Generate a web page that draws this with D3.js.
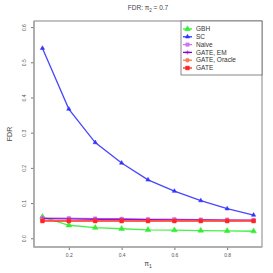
<!DOCTYPE html>
<html>
<head>
<meta charset="utf-8">
<script src="https://cdn.jsdelivr.net/npm/d3@7"></script>
<style>
  body { margin: 0; background: #fff; }
  text { font-family: "Liberation Sans", Arial, sans-serif; }
</style>
</head>
<body>
<div id="chart"></div>
<script>
var svgWidth = 273;
var svgHeight = 273;

var margin = { top: 21, right: 11, bottom: 26, left: 34 };
var width = svgWidth - margin.left - margin.right;
var height = svgHeight - margin.top - margin.bottom;

// data
var pi1 = [0.1, 0.2, 0.3, 0.4, 0.5, 0.6, 0.7, 0.8, 0.9];
var gbh = [0.061, 0.037, 0.030, 0.027, 0.024, 0.023, 0.022, 0.021, 0.020];
var sc = [0.540, 0.367, 0.272, 0.214, 0.166, 0.134, 0.107, 0.084, 0.066];
var naive = [0.058, 0.057, 0.056, 0.055, 0.054, 0.054, 0.053, 0.053, 0.052];
var gateEM = [0.056, 0.055, 0.054, 0.054, 0.053, 0.052, 0.052, 0.051, 0.051];
var gateOracle = [0.051, 0.050, 0.050, 0.050, 0.050, 0.050, 0.050, 0.050, 0.050];
var gate = [0.049, 0.049, 0.049, 0.049, 0.049, 0.049, 0.049, 0.049, 0.049];

var seriesNames = ["GBH", "SC", "Naive", "GATE, EM", "GATE, Oracle", "GATE"];
var seriesValues = [gbh, sc, naive, gateEM, gateOracle, gate];
var seriesColors = ["#33ee33", "#3333ff", "#cc77ee", "#8800cc", "#ff7755", "#ff2222"];
var seriesShapes = [d3.symbolTriangle, d3.symbolTriangle, d3.symbolSquare, d3.symbolAsterisk, d3.symbolCircle, d3.symbolSquare];
var symbolSizes = [14, 8, 12, 12, 12, 14];

var xTicks = [0.2, 0.4, 0.6, 0.8];
var yTicks = [0.0, 0.1, 0.2, 0.3, 0.4, 0.5, 0.6];

var svg = d3.select("#chart")
  .append("svg")
  .attr("width", svgWidth)
  .attr("height", svgHeight);

var chartGroup = svg.append("g")
  .attr("transform", `translate(${margin.left}, ${margin.top})`);

var xScale = d3.scaleLinear()
  .domain([0.068, 0.932])
  .range([0, width]);

var yScale = d3.scaleLinear()
  .domain([-0.0248, 0.6173])
  .range([height, 0]);

// axes
var bottomAxis = d3.axisBottom(xScale).tickValues(xTicks).tickSize(3).tickPadding(3)
  .tickFormat(d3.format(".1f"));
var leftAxis = d3.axisLeft(yScale).tickValues(yTicks).tickSize(3).tickPadding(3)
  .tickFormat(d3.format(".1f"));

var xAxis = chartGroup.append("g")
  .attr("transform", `translate(0, ${height})`)
  .call(bottomAxis);

var yAxis = chartGroup.append("g")
  .call(leftAxis);

[xAxis, yAxis].forEach(function(ax) {
  ax.select(".domain").remove();
  ax.selectAll("line").attr("stroke", "#777");
  ax.selectAll("text").attr("fill", "#555").style("font-size", "5px");
});

yAxis.selectAll(".tick text")
  .attr("x", null).attr("dy", null)
  .attr("text-anchor", "middle")
  .attr("transform", "translate(-8,0) rotate(-90)");

// box
chartGroup.append("rect")
  .attr("width", width)
  .attr("height", height)
  .attr("fill", "none")
  .attr("stroke", "#666")
  .attr("stroke-width", 0.8);
chartGroup.append("path")
  .attr("d", `M0,0V${height}H${width}`)
  .attr("fill", "none")
  .attr("stroke", "#aaa")
  .attr("stroke-width", 1.6);

// lines
var line = d3.line()
  .x((d, i) => xScale(pi1[i]))
  .y(d => yScale(d));

seriesValues.forEach(function(vals, k) {
  chartGroup.append("path")
    .datum(vals)
    .attr("d", line)
    .attr("fill", "none")
    .attr("stroke", seriesColors[k])
    .attr("stroke-width", 1.3)
    .attr("opacity", 0.9);

  chartGroup.selectAll(".pt" + k)
    .data(vals)
    .enter()
    .append("path")
    .attr("d", d3.symbol().type(seriesShapes[k]).size(symbolSizes[k]))
    .attr("transform", (d, i) => `translate(${xScale(pi1[i])}, ${yScale(d)})`)
    .attr("fill", seriesColors[k])
    .attr("stroke", seriesColors[k])
    .attr("stroke-width", 0.5);
});

// legend
var legend = chartGroup.append("g")
  .attr("transform", `translate(${width - 81}, 0)`);

legend.append("rect")
  .attr("width", 81)
  .attr("height", 54)
  .attr("fill", "#fff")
  .attr("stroke", "#555")
  .attr("stroke-width", 0.7);

seriesNames.forEach(function(name, k) {
  var yy = 8 + k * 7.8;
  legend.append("line")
    .attr("x1", 2).attr("x2", 11)
    .attr("y1", yy).attr("y2", yy)
    .attr("stroke", seriesColors[k])
    .attr("stroke-width", 1.3);
  legend.append("path")
    .attr("d", d3.symbol().type(seriesShapes[k]).size(symbolSizes[k]))
    .attr("transform", `translate(6.5, ${yy})`)
    .attr("fill", seriesColors[k])
    .attr("stroke", seriesColors[k])
    .attr("stroke-width", 0.5);
  legend.append("text")
    .attr("x", 15)
    .attr("y", yy)
    .attr("dy", "0.35em")
    .style("font-size", "6.5px")
    .attr("fill", "#333")
    .text(name);
});

// title and labels
svg.append("text")
  .attr("x", margin.left + width / 2)
  .attr("y", 10)
  .attr("text-anchor", "middle")
  .style("font-size", "6.5px")
  .attr("fill", "#444")
  .html("FDR: &#960;<tspan font-size='4.5px' dy='1.5'>2</tspan><tspan dy='-1.5'> = 0.7</tspan>");

svg.append("text")
  .attr("x", margin.left + width / 2)
  .attr("y", 266)
  .attr("text-anchor", "middle")
  .style("font-size", "7px")
  .attr("fill", "#444")
  .html("&#960;<tspan font-size='5px' dy='1.5'>1</tspan>");

svg.append("text")
  .attr("transform", `translate(12, ${margin.top + height / 2}) rotate(-90)`)
  .attr("text-anchor", "middle")
  .style("font-size", "7px")
  .attr("fill", "#444")
  .text("FDR");
</script>
</body>
</html>
